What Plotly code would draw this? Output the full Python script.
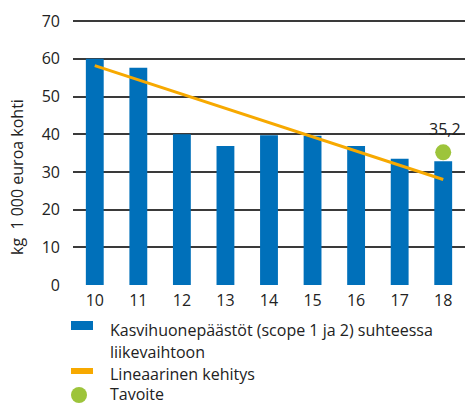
import plotly.graph_objects as go

years = [10, 11, 12, 13, 14, 15, 16, 17, 18]
year_labels = ["10", "11", "12", "13", "14", "15", "16", "17", "18"]
emissions = [60.0, 57.6, 40.0, 36.9, 39.7, 39.6, 36.9, 33.5, 32.8]
trend_x = [10, 18]
trend_y = [58.2, 28.0]
target_x = [18]
target_y = [35.2]
target_label = "35,2"

y_ticks = [0, 10, 20, 30, 40, 50, 60, 70]

BLUE = "#0070BA"
ORANGE = "#F7A900"
GREEN = "#9DC43B"
TEXT = "#222222"
FONT = "Open Sans"

W, H = 465, 405
L, R, T, B = 73, 0, 20, 120
pw = W - L - R
ph = H - T - B

def px(x):
    return (x - L) / pw

def py(y):
    return (H - B - y) / ph

fig = go.Figure()
fig.add_trace(go.Bar(x=years, y=emissions, marker=dict(color=BLUE, line=dict(width=0)),
                     width=0.41, showlegend=False))
fig.add_trace(go.Scatter(x=trend_x, y=trend_y, mode="lines",
                         line=dict(color=ORANGE, width=3), showlegend=False))
fig.add_trace(go.Scatter(x=target_x, y=target_y, mode="markers",
                         marker=dict(color=GREEN, size=16, line=dict(width=0)), showlegend=False))

fig.add_annotation(x=target_x[0], y=target_y[0], text=target_label, showarrow=False,
                   yanchor="bottom", yshift=10, xshift=2,
                   font=dict(family=FONT, size=16, color=TEXT))

# y axis title
fig.add_annotation(xref="paper", yref="paper", x=px(17), y=py(177), text="kg  1 000 euroa kohti",
                   textangle=-90, showarrow=False, xanchor="center", yanchor="middle",
                   font=dict(family=FONT, size=16, color=TEXT))

# legend (manual)
shapes = []
shapes.append(dict(type="rect", xref="paper", yref="paper", x0=px(71), x1=px(93), y0=py(321), y1=py(330),
                   fillcolor=BLUE, line=dict(width=0)))
shapes.append(dict(type="rect", xref="paper", yref="paper", x0=px(71), x1=px(93), y0=py(368), y1=py(374),
                   fillcolor=ORANGE, line=dict(width=0)))
shapes.append(dict(type="circle", xref="paper", yref="paper", x0=px(71), x1=px(87), y0=py(387), y1=py(403),
                   fillcolor=GREEN, line=dict(width=0)))

legend_lines = [
    ("Kasvihuonepäästöt (scope 1 ja 2) suhteessa", 330),
    ("liikevaihtoon", 352),
    ("Lineaarinen kehitys", 374),
    ("Tavoite", 394),
]
for txt, yy in legend_lines:
    fig.add_annotation(xref="paper", yref="paper", x=px(108), y=py(yy), text=txt, showarrow=False,
                       xanchor="left", yanchor="middle",
                       font=dict(family=FONT, size=16, color=TEXT))

fig.update_layout(
    width=W, height=H,
    margin=dict(l=L, r=R, t=T, b=B),
    plot_bgcolor="white", paper_bgcolor="white",
    shapes=shapes,
    showlegend=False,
    bargap=0.59,
    xaxis=dict(range=[9.5, 18.5], tickvals=years, ticktext=year_labels, showgrid=False,
               zeroline=False, showline=False, ticks="", ticklabelstandoff=4,
               tickfont=dict(family=FONT, size=16, color=TEXT)),
    yaxis=dict(range=[0, 70.3], tickvals=y_ticks, showgrid=True, gridcolor="#3a3a3a", gridwidth=1.5,
               zeroline=False, showline=False, ticks="", ticklabelstandoff=12,
               tickfont=dict(family=FONT, size=16, color=TEXT)),
)

fig.write_html("out.html", config={"displayModeBar": False},
               post_script="document.body.style.margin='0';document.body.style.overflow='hidden';")
